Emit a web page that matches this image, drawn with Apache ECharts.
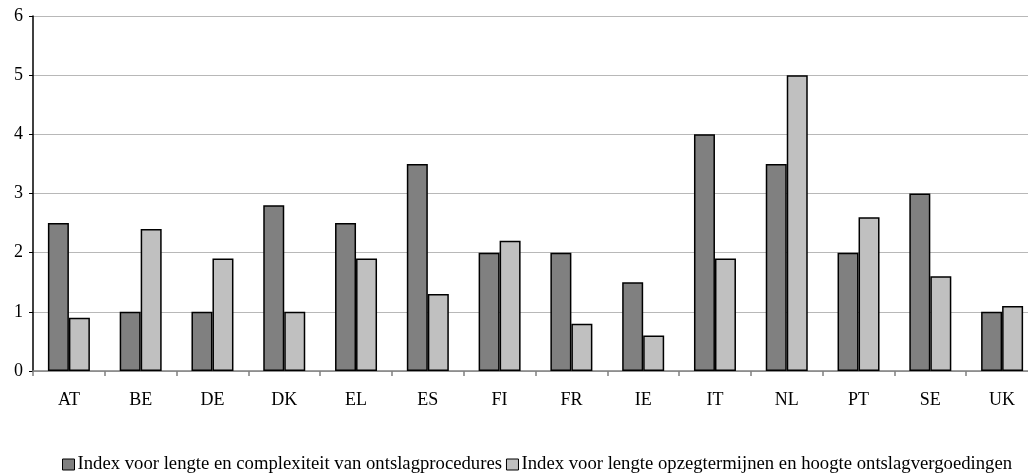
<!DOCTYPE html>
<html><head><meta charset="utf-8">
<script src="https://cdn.jsdelivr.net/npm/echarts@6/dist/echarts.min.js"></script>
<style>html,body{margin:0;padding:0;background:#fff}#c{width:1028px;height:474px}</style>
</head><body><div id="c"></div>
<script>
const categories = ['AT','BE','DE','DK','EL','ES','FI','FR','IE','IT','NL','PT','SE','UK'];
const seriesNames = ['Index voor lengte en complexiteit van ontslagprocedures','Index voor lengte opzegtermijnen en hoogte ontslagvergoedingen'];
const procedures = [2.5,1.0,1.0,2.8,2.5,3.5,2.0,2.0,1.5,4.0,3.5,2.0,3.0,1.0];
const notice = [0.9,2.4,1.9,1.0,1.9,1.3,2.2,0.8,0.6,1.9,5.0,2.6,1.6,1.1];
const yTicks = [0,1,2,3,4,5,6];

const font = '"Liberation Serif","Times New Roman",serif';
const chart = echarts.init(document.getElementById('c'));
chart.setOption({
  animation:false,
  grid:{left:33,width:1005,top:16,height:355,containLabel:false,outerBoundsMode:'none'},
  legend:{
    top:450, left:57, itemWidth:12, itemHeight:11, itemGap:4,
    icon:'rect',
    itemStyle:{borderColor:'#000',borderWidth:1},
    textStyle:{fontFamily:font,fontSize:18.7,color:'#000',padding:[0,0,0,-2]},
    data:seriesNames
  },
  xAxis:{
    type:'category', data:categories,
    axisLine:{lineStyle:{color:'#808080',width:1.5}},
    axisTick:{show:true,length:5,lineStyle:{color:'#808080',width:1.5}},
    axisLabel:{fontFamily:font,fontSize:18,color:'#000',margin:20}
  },
  yAxis:{
    type:'value', min:yTicks[0], max:yTicks[yTicks.length-1], interval:1,
    axisLine:{show:true,lineStyle:{color:'#000',width:1.5}},
    axisTick:{show:true,length:4,lineStyle:{color:'#000'}},
    axisLabel:{fontFamily:font,fontSize:18,color:'#000',margin:10},
    splitLine:{lineStyle:{color:'#b8b8b8',width:1}}
  },
  series:[
    {name:seriesNames[0],type:'bar',data:procedures,barGap:'0%',barCategoryGap:'41.5%',
     itemStyle:{color:'#808080',borderColor:'#000',borderWidth:1.5}},
    {name:seriesNames[1],type:'bar',data:notice,
     itemStyle:{color:'#c0c0c0',borderColor:'#000',borderWidth:1.5}}
  ]
});
</script></body></html>
